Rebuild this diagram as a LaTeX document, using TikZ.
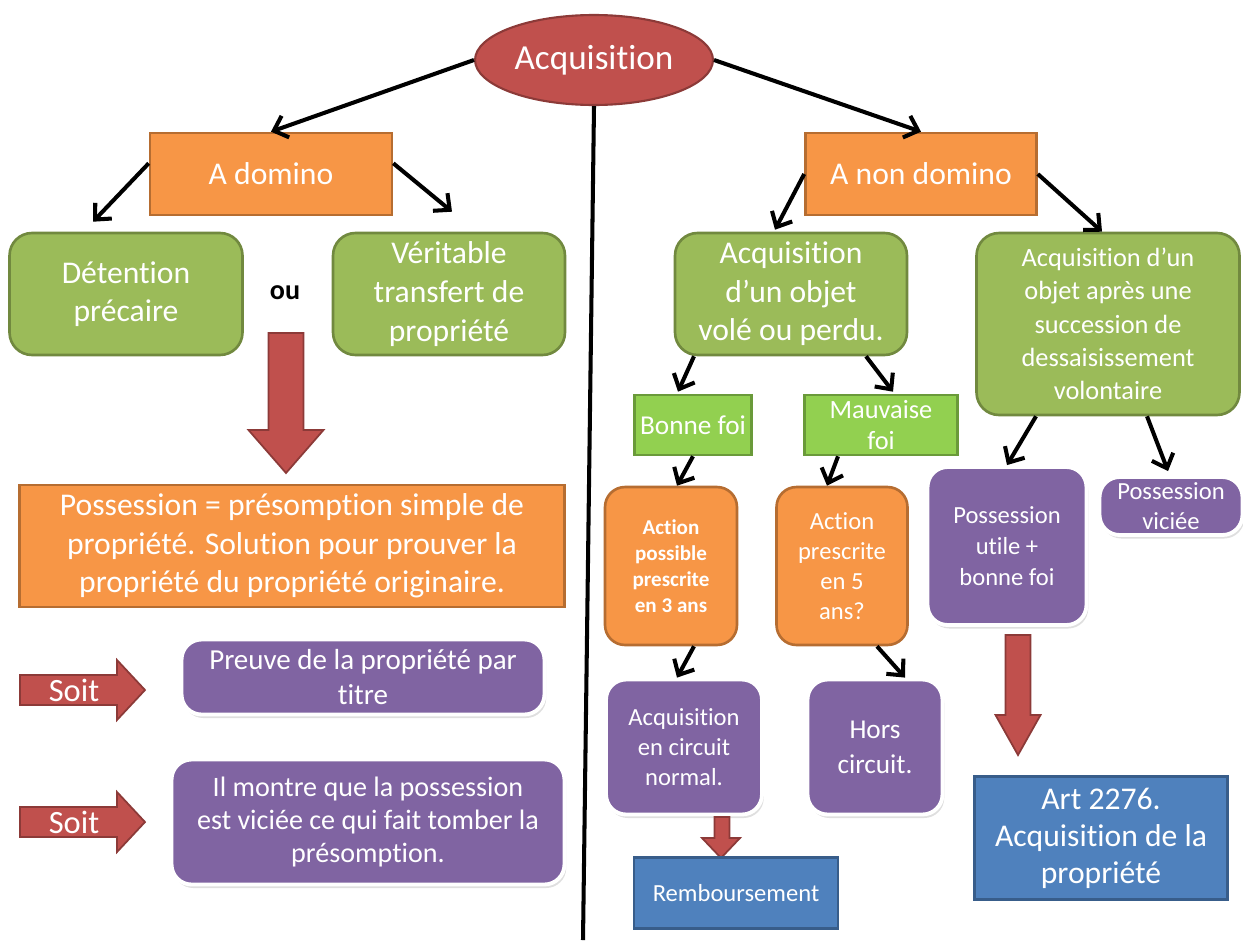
\documentclass[tikz,border=0pt]{standalone}
\usepackage{fontspec}
\setmainfont{Carlito}[Ligatures=NoCommon]
\usepackage{tikz}
\usetikzlibrary{arrows.meta,shapes.geometric,shadows}

\definecolor{redfill}{HTML}{C0504D}
\definecolor{redline}{HTML}{8C3A38}
\definecolor{orangefill}{HTML}{F79646}
\definecolor{orangeline}{HTML}{B66D31}
\definecolor{greenfill}{HTML}{9BBB59}
\definecolor{greenline}{HTML}{71893F}
\definecolor{limefill}{HTML}{92D050}
\definecolor{limeline}{HTML}{6A9A3A}
\definecolor{purplefill}{HTML}{8064A2}
\definecolor{bluefill}{HTML}{4F81BD}
\definecolor{blueline}{HTML}{385D8A}

\newcommand{\fs}[2]{\fontsize{#1}{#2}\selectfont}

\begin{document}
\begin{tikzpicture}[x=0.02cm, y=-0.02cm, >={Straight Barb[length=7pt,width=13pt]},
  link/.style={->, line width=2.3pt},
  oval/.style={ellipse, fill=redfill, draw=redline, line width=1.2pt, text=white, inner sep=0pt},
  orangebox/.style={rectangle, fill=orangefill, draw=orangeline, line width=1.5pt, text=white, align=center, inner sep=0pt},
  orangeround/.style={orangebox, rounded corners=0.4cm},
  greenbox/.style={rectangle, rounded corners=0.45cm, fill=greenfill, draw=greenline, line width=1.5pt, text=white, align=center, inner sep=0pt},
  limebox/.style={rectangle, fill=limefill, draw=limeline, line width=1.5pt, text=white, align=center, inner sep=0pt},
  purplebox/.style={rectangle, rounded corners=0.4cm, fill=purplefill, draw=white, line width=2.2pt, text=white, align=center, inner sep=0pt,
    drop shadow={opacity=0.25, shadow xshift=1pt, shadow yshift=-2pt}},
  bluebox/.style={rectangle, fill=bluefill, draw=blueline, line width=1.5pt, text=white, align=center, inner sep=0pt},
  blockarrow/.style={fill=redfill, draw=redline, line width=1pt}]
  \useasboundingbox (0,0) rectangle (1243,940);

  % top
  \node[oval, minimum width=4.76cm, minimum height=1.8cm, font=\fs{20}{24}] (acq) at (594,60) {Acquisition};
  \coordinate (lineend) at (583,940);
  \draw[line width=2.3pt] (acq.south) -- (lineend);

  % a domino side
  \node[orangebox, minimum width=4.84cm, minimum height=1.64cm, font=\fs{18}{22}] (adom) at (271,174) {A domino};
  \node[greenbox, minimum width=4.66cm, minimum height=2.44cm, font=\fs{18}{22}] (det) at (126,294) {Détention\\précaire};
  \node[greenbox, minimum width=4.64cm, minimum height=2.44cm, font=\fs{18}{22}] (ver) at (449,294) {Véritable\\transfert de\\propriété};
  \node[font=\fs{16}{19}\bfseries] (ou) at (285,293) {ou};
  \filldraw[blockarrow] (268.5,333) -- (303.5,333) -- (303.5,430) -- (323.5,430) -- (286,473) -- (248.5,430) -- (268.5,430) -- cycle;
  \node[orangebox, minimum width=10.9cm, minimum height=2.44cm, font=\fs{18}{22}] (poss) at (292,546) {Possession = présomption simple de\\propriété. Solution pour prouver la\\propriété du propriété originaire.};
  \foreach \y/\n in {690/soitA, 822/soitB} {
    \filldraw[blockarrow] (20,\y-15) -- (117,\y-15) -- (117,\y-30) -- (145,\y) -- (117,\y+30) -- (117,\y+15) -- (20,\y+15) -- cycle;
    \node[text=white, font=\fs{18.5}{22}] (\n) at (74,\y) {Soit};
  }
  \node[purplebox, minimum width=7.26cm, minimum height=1.5cm, font=\fs{16.5}{19.5}] (preuve) at (363,677) {Preuve de la propriété par\\titre};
  \node[purplebox, minimum width=7.86cm, minimum height=2.5cm, font=\fs{16}{19}] (montre) at (368,822) {Il montre que la possession\\est viciée ce qui fait tomber la\\présomption.};

  % a non domino side
  \node[orangebox, minimum width=4.62cm, minimum height=1.64cm, font=\fs{18}{22}] (anondom) at (921,174) {A non domino};
  \node[greenbox, minimum width=4.64cm, minimum height=2.44cm, font=\fs{18}{22}] (vole) at (791,294) {Acquisition\\d’un objet\\volé ou perdu.};
  \node[greenbox, minimum width=5.26cm, minimum height=3.64cm, font=\fs{15}{19}] (dessais) at (1108,324) {Acquisition d’un\\objet après une\\succession de\\dessaisissement\\volontaire};
  \node[limebox, minimum width=2.34cm, minimum height=1.2cm, font=\fs{15.5}{18}] (bonne) at (693,425) {Bonne foi};
  \node[limebox, minimum width=3.06cm, minimum height=1.2cm, font=\fs{15}{18}] (mauv) at (881,425) {Mauvaise\\foi};
  \node[orangeround, minimum width=2.64cm, minimum height=3.16cm, font=\fs{12}{14.8}\bfseries] (act3) at (671,566) {Action\\possible\\prescrite\\en 3 ans};
  \node[orangeround, minimum width=2.62cm, minimum height=3.16cm, font=\fs{14}{17}] (act5) at (842,566) {Action\\prescrite\\en 5\\ans?};
  \node[purplebox, minimum width=3.12cm, minimum height=2.7cm, font=\fs{14}{17}] (circ) at (684,747) {Acquisition\\en circuit\\normal.};
  \node[purplebox, minimum width=2.7cm, minimum height=2.7cm, font=\fs{15.5}{20}] (hors) at (875,747) {Hors\\circuit.};
  \filldraw[blockarrow] (714.5,817) -- (729.5,817) -- (729.5,838) -- (740,838) -- (721,858) -- (702,838) -- (714.5,838) -- cycle;
  \node[bluebox, minimum width=4.08cm, minimum height=1.42cm, font=\fs{14}{17}] (remb) at (736,893) {Remboursement};
  \node[purplebox, minimum width=3.18cm, minimum height=3.16cm, font=\fs{14}{17.6}] (utile) at (1007,546) {Possession\\utile +\\bonne foi};
  \node[purplebox, minimum width=2.86cm, minimum height=1.16cm, font=\fs{14}{17}] (vicie) at (1171,506) {Possession\\viciée};
  \filldraw[blockarrow] (1005.5,635) -- (1030.5,635) -- (1030.5,715) -- (1040.5,715) -- (1018,755) -- (995.5,715) -- (1005.5,715) -- cycle;
  \node[bluebox, minimum width=5.06cm, minimum height=2.46cm, font=\fs{18}{21}] (art) at (1101,838) {Art 2276.\\Acquisition de la\\propriété};

  % connectors
  \draw[link] (acq.west) -- (adom.north);
  \draw[link] (acq.east) -- (anondom.north);
  \draw[link] (adom.175) -- ([shift={(-33,-10)}]det.north);
  \draw[link] (adom.5) -- ([shift={(3,-20)}]ver.north);
  \draw[link] (anondom.west) -- ([shift={(-16,-2)}]vole.north);
  \draw[link] (anondom.east) -- ([shift={(-6,0)}]dessais.north);
  \draw[link] ([shift={(-97,0)}]vole.south) -- ([shift={(-15,-2)}]bonne.north);
  \draw[link] ([shift={(75,0)}]vole.south) -- ([shift={(12,-2)}]mauv.north);
  \draw[link] (bonne.south) -- ([shift={(6,0)}]act3.north);
  \draw[link] ([shift={(-43,0)}]mauv.south) -- ([shift={(-15,0)}]act5.north);
  \draw[link] ([shift={(23,0)}]act3.south) -- ([shift={(-7,0)}]circ.north);
  \draw[link] ([shift={(35,0)}]act5.south) -- ([shift={(30,0)}]hors.north);
  \draw[link] ([shift={(-72,0)}]dessais.south) -- (utile.north);
  \draw[link] ([shift={(39,0)}]dessais.south) -- ([shift={(-3,-4)}]vicie.north);
\end{tikzpicture}
\end{document}
